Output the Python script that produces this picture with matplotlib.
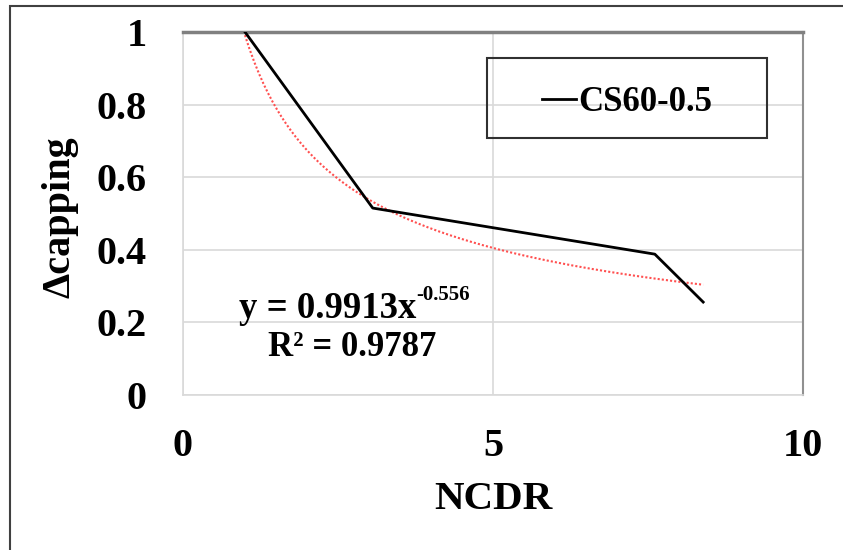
import numpy as np
import matplotlib
matplotlib.use("Agg")
import matplotlib.pyplot as plt
from matplotlib.patches import Rectangle

# data
ncdr = [1.0, 3.06, 7.61, 8.39]
dcap = [1.0, 0.515, 0.388, 0.256]
fit_a = 0.9913
fit_b = -0.556
fit_r2 = 0.9787
series_name = "CS60-0.5"
xticks = [0, 5, 10]
yticks = [0, 0.2, 0.4, 0.6, 0.8, 1.0]
ytick_labels = ["0", "0.2", "0.4", "0.6", "0.8", "1"]

plt.rcParams['font.family'] = ['Liberation Serif', 'DejaVu Serif']
plt.rcParams['font.weight'] = 'bold'

fig = plt.figure(figsize=(8.43, 5.5), dpi=100)
ax = fig.add_axes([183/843, 1 - 395/550, 620/843, 363/550])

# outer frame of the picture (left and top edges only show)
fig.patches.append(Rectangle((10/843, -0.05), 1.0, 1.05 - 6/550,
                             transform=fig.transFigure, fill=False,
                             edgecolor='#404040', lw=1.5))

ax.plot(ncdr, dcap, color='black', lw=2, label=series_name, zorder=3)

xf = np.linspace(ncdr[0], ncdr[-1], 200)
ax.plot(xf, fit_a * xf ** fit_b, color='#ff5050', lw=1.5, ls=(0, (1, 1)), zorder=2)

ax.set_xlim(0, 10)
ax.set_ylim(0, 1)
ax.set_xticks(xticks)
ax.set_yticks(yticks)
ax.set_yticklabels(ytick_labels)
ax.tick_params(axis='both', length=0, labelsize=29)
ax.tick_params(axis='y', pad=26)
ax.tick_params(axis='x', pad=24)
ax.grid(True, color='#d9d9d9', lw=1.2)
ax.set_axisbelow(True)

for s in ['left', 'bottom']:
    ax.spines[s].set_color('#d9d9d9')
    ax.spines[s].set_linewidth(1.2)
ax.spines['top'].set_color('#808080')
ax.spines['top'].set_linewidth(2.5)
ax.spines['right'].set_color('#909090')
ax.spines['right'].set_linewidth(1.5)

ax.set_xlabel("NCDR", fontsize=29.5, fontweight='bold', labelpad=11)
ax.set_ylabel("\u0394capping", fontsize=29, fontweight='bold')
ax.yaxis.set_label_coords(-0.169, 0.49)

# trend line equation, superscript placed after the base text
eq = ax.text(3.77, 0.237, "y = 0.9913x", fontsize=26.5, fontweight='bold',
             ha='right', va='center')
ax.annotate("%.3f" % fit_b, xy=(1.0, 0.62), xycoords=eq, fontsize=15,
            fontweight='bold', ha='left', va='bottom')
ax.text(2.73, 0.13, "R\u00b2 = %.4f" % fit_r2, fontsize=25, fontweight='bold',
        ha='center', va='center')

# legend box
ax.add_patch(Rectangle((0.49, 0.708), 0.452, 0.22, transform=ax.transAxes,
                       fill=False, edgecolor='#303030', lw=1.5, zorder=4))
ax.legend(loc='center', bbox_to_anchor=(0.716, 0.805), frameon=False,
          handlelength=1.0, handletextpad=0.05,
          prop={'weight': 'bold', 'size': 25})

fig.savefig("out.png", dpi=100)
